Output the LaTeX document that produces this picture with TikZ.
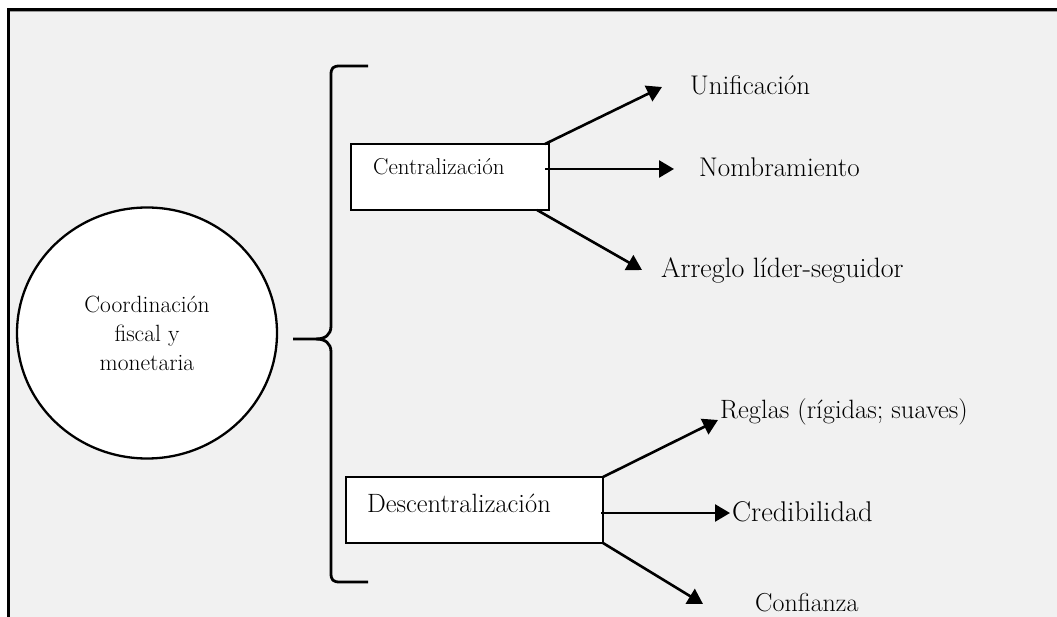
\documentclass[tikz,border=0pt]{standalone}
\usepackage{fontspec}
\usetikzlibrary{arrows.meta,shapes.geometric,calc}
\definecolor{panel}{HTML}{F1F1F1}
\definecolor{panelrule}{HTML}{9A9A9A}
\tikzset{
  conceptbox/.style={draw=black, line width=2.6pt, fill=white, inner sep=0pt, outer sep=0pt, anchor=north west},
  topic/.style={draw=black, line width=2.3pt, fill=white, ellipse, inner sep=0pt, align=center,
    font=\fontsize{23.5}{29}\selectfont},
  boxlabel/.style={anchor=base west, inner sep=0pt},
  leaf/.style={anchor=base west, inner sep=0pt, font=\fontsize{27}{32}\selectfont},
  branch/.style={draw=black, line width=2.6pt, -{Triangle[length=15pt,width=17pt]}},
  brace/.style={draw=black, line width=2.8pt}
}
\begin{document}
\begin{tikzpicture}[x=1pt,y=-1pt]
\useasboundingbox (0,0) rectangle (1057,617);
% page and framed panel
\fill[white] (0,0) rectangle (1057,617);
\fill[panel] (8,9) rectangle (1057,617);
\draw[panelrule, line width=1.2pt] (9.5,11.8) -- (1057,11.8);
\draw[black, line width=3pt] (8,617) -- (8,9.3) -- (1057,9.3);

% central concept
\node[topic, minimum width=260, minimum height=251] (coord) at (147,333)
  {Coordinación\\fiscal y\\monetaria};

% curly brace
\coordinate (bt) at (368,66);
\coordinate (bm) at (293,339);
\coordinate (bb) at (368,582);
\draw[brace] (bt) -- (340,66) .. controls (333,66) and (331,68) .. (331,75)
  -- (331,326) .. controls (331,335) and (325,339) .. (316,339) -- (bm);
\draw[brace] (316,339) .. controls (325,339) and (331,343) .. (331,352)
  -- (331,573) .. controls (331,580) and (333,582) .. (340,582) -- (bb);

% category boxes
\node[conceptbox, minimum width=198, minimum height=66] (cen) at (351,144) {};
\node[boxlabel, font=\fontsize{23}{27}\selectfont] (cenlab) at (373,175) {Centralización};
\node[conceptbox, minimum width=257, minimum height=66] (des) at (346,477) {};
\node[boxlabel, font=\fontsize{26.5}{31}\selectfont] (deslab) at (367,512) {Descentralización};

% leaves of the centralised branch
\node[leaf] (uni) at (690,95) {Unificación};
\node[leaf] (nom) at (699,177) {Nombramiento};
\node[leaf, font=\fontsize{28}{33}\selectfont] (arr) at (661,278) {Arreglo líder-seguidor};
\coordinate (uniTip) at (662,87);
\coordinate (nomTip) at (674,169);
\coordinate (arrTip) at (642,270);
\coordinate (nomStart) at ($(cen.east)+(-4,-8)$);
\draw[branch] ($(cen.north east)+(-4,0)$) -- (uniTip);
\draw[branch] (nomStart) -- (nomStart -| nomTip);
\draw[branch] ($(cen.south east)+(-12,0)$) -- (arrTip);

% leaves of the decentralised branch
\node[leaf, font=\fontsize{26.5}{31}\selectfont] (reg) at (720,418) {Reglas (rígidas; suaves)};
\node[leaf, font=\fontsize{28.5}{33}\selectfont] (cre) at (732,521) {Credibilidad};
\node[leaf, font=\fontsize{26}{31}\selectfont] (con) at (755,611) {Confianza};
\coordinate (regTip) at (718,420);
\coordinate (creTip) at (730,513);
\coordinate (conTip) at (703,604);
\coordinate (creStart) at ($(des.east)+(-2,3)$);
\draw[branch] (des.north east) -- (regTip);
\draw[branch] (creStart) -- (creStart -| creTip);
\draw[branch] (des.south east) -- (conTip);
\end{tikzpicture}
\end{document}
